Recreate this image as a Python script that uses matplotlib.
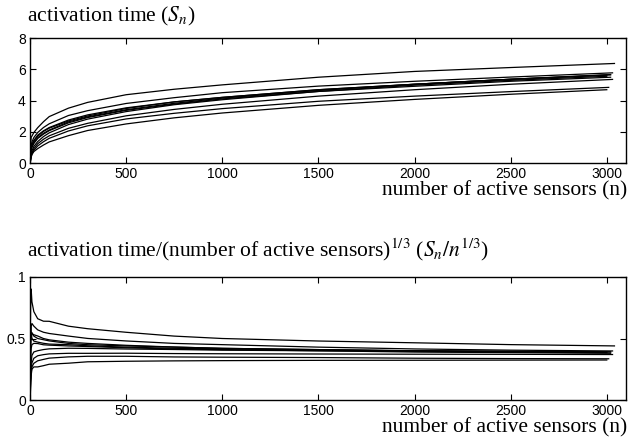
import matplotlib
matplotlib.use("Agg")
import matplotlib.pyplot as plt
import numpy as np

plt.rcParams['mathtext.fontset'] = 'stix'

# sample points (number of active sensors) for each curve, last point = curve end
n_common = [0, 1, 3, 6, 10, 20, 40, 70, 100, 200, 300, 500, 750, 1000, 1500, 2000, 2500]
curve_end_n = [3040, 3030, 3020, 3000, 3020, 3000, 3020, 3030, 3010, 3000]

# activation time S_n read at n_common + end point
S_A = [0, 0.50, 1.08, 1.64, 1.72, 1.95, 2.26, 2.64, 2.97, 3.51, 3.88, 4.37, 4.72, 5.00, 5.49, 5.86, 6.11, 6.37]
S_B = [0, 0.30, 0.72, 1.09, 1.34, 1.63, 1.95, 2.27, 2.51, 3.04, 3.35, 3.81, 4.18, 4.50, 4.92, 5.23, 5.50, 5.77]
S_C1 = [0, 0.40, 0.79, 1.00, 1.16, 1.44, 1.78, 2.06, 2.27, 2.75, 3.08, 3.53, 3.91, 4.20, 4.69, 5.04, 5.36, 5.64]
S_C2 = [0, 0.20, 0.58, 0.91, 1.18, 1.41, 1.71, 2.02, 2.23, 2.69, 3.01, 3.49, 3.91, 4.20, 4.69, 5.04, 5.36, 5.62]
S_C3 = [0, 0.50, 0.87, 1.00, 1.08, 1.30, 1.61, 1.90, 2.11, 2.63, 2.95, 3.41, 3.82, 4.15, 4.64, 5.04, 5.36, 5.66]
S_C4 = [0, 0.10, 0.43, 0.76, 0.97, 1.25, 1.57, 1.85, 2.07, 2.57, 2.91, 3.37, 3.77, 4.10, 4.58, 4.98, 5.29, 5.55]
S_C5 = [0, 0.10, 0.29, 0.55, 0.78, 1.06, 1.37, 1.69, 1.93, 2.46, 2.81, 3.29, 3.73, 4.05, 4.58, 4.91, 5.23, 5.49]
S_D = [0, 0.05, 0.22, 0.45, 0.65, 0.92, 1.23, 1.52, 1.74, 2.22, 2.54, 3.02, 3.43, 3.76, 4.28, 4.69, 5.04, 5.35]
S_E = [0, 0.00, 0.22, 0.40, 0.58, 0.81, 1.09, 1.36, 1.58, 2.05, 2.38, 2.82, 3.18, 3.48, 3.95, 4.28, 4.57, 4.84]
S_F = [0, 0.00, 0.14, 0.36, 0.54, 0.73, 0.92, 1.15, 1.35, 1.75, 2.08, 2.50, 2.89, 3.20, 3.69, 4.07, 4.40, 4.69]

curves = [S_A, S_B, S_C1, S_C2, S_C3, S_C4, S_C5, S_D, S_E, S_F]

x_ticks = [0, 500, 1000, 1500, 2000, 2500, 3000]
top_yticks = [0, 2, 4, 6, 8]
bot_yticks = [0, 0.5, 1]
bot_yticklabels = ['0', '0.5', '1']

fig = plt.figure(figsize=(6.29, 4.40), dpi=100)
W, H = 629, 440

def ax_at(l, t, r, b):
    return fig.add_axes([l / W, 1 - b / H, (r - l) / W, (b - t) / H])

ax1 = ax_at(30, 38, 626, 163)
ax2 = ax_at(30, 277, 626, 400)

for S, nend in zip(curves, curve_end_n):
    n = np.array(n_common + [nend], dtype=float)
    s = np.array(S, dtype=float)
    ax1.plot(n, s, color='black', lw=0.9)
    m = n > 0
    ax2.plot(np.concatenate([[0], n[m]]), np.concatenate([[0], s[m] / n[m] ** (1 / 3)]), color='black', lw=0.9)

tick_font = dict(family='Liberation Sans', size=10)
for ax in (ax1, ax2):
    ax.set_xlim(0, 3100)
    ax.set_xticks(x_ticks)
    ax.set_xticklabels([str(v) for v in x_ticks], **tick_font)
    ax.tick_params(direction='in', top=True, right=True, length=4, width=0.8, pad=3)
    for sp in ax.spines.values():
        sp.set_linewidth(1.0)

ax1.set_ylim(0, 8)
ax1.set_yticks(top_yticks)
ax1.set_yticklabels([str(v) for v in top_yticks], **tick_font)
ax2.set_ylim(0, 1)
ax2.set_yticks(bot_yticks)
ax2.set_yticklabels(bot_yticklabels, **tick_font)

serif = dict(family='Liberation Serif', size=15.5)
fig.text(27 / W, 1 - 16 / H, r'activation time ($S_n$)', ha='left', va='center', **serif)
fig.text(627 / W, 1 - 191 / H, 'number of active sensors (n)', ha='right', va='center', **serif)
fig.text(27 / W, 1 - 250 / H, r'activation time/(number of active sensors)$^{1/3}$ ($S_n/n^{1/3}$)', ha='left', va='center', **serif)
fig.text(627 / W, 1 - 428 / H, 'number of active sensors (n)', ha='right', va='center', **serif)

fig.savefig('out.png', dpi=100)
